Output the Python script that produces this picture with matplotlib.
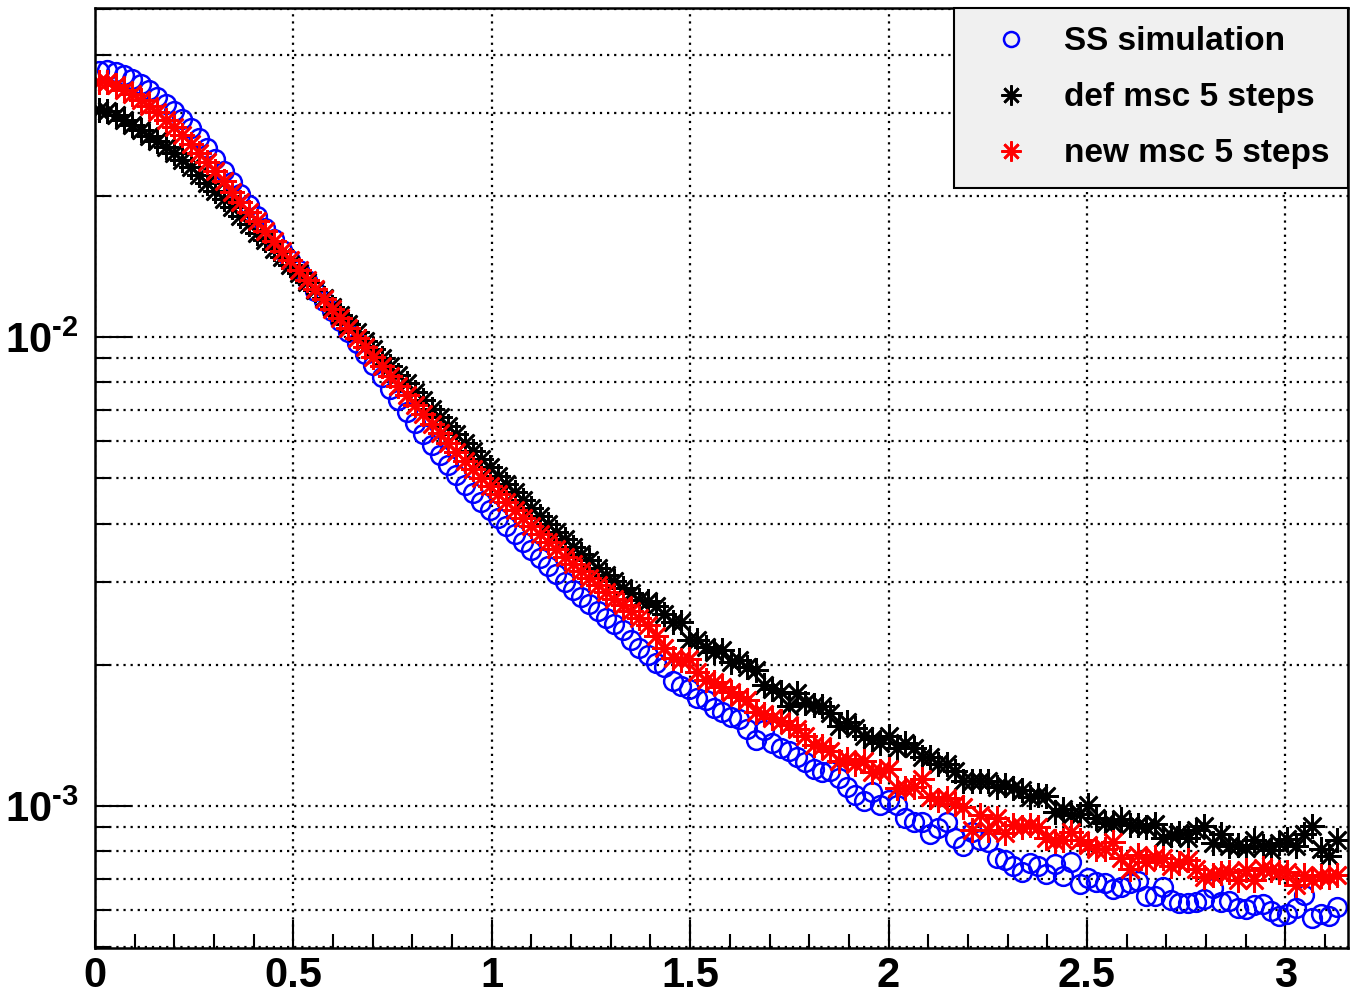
import numpy as np
import matplotlib
matplotlib.use('Agg')
import matplotlib.pyplot as plt
from matplotlib.ticker import FixedLocator, MultipleLocator, NullFormatter, LogLocator, FuncFormatter

plt.rcParams['font.family'] = ['Liberation Sans', 'DejaVu Sans']
plt.rcParams['font.weight'] = 'bold'
plt.rcParams['mathtext.fontset'] = 'custom'
plt.rcParams['mathtext.rm'] = 'Liberation Sans:bold'
plt.rcParams['mathtext.bf'] = 'Liberation Sans:bold'
plt.rcParams['mathtext.default'] = 'rm'

# histogram binning (theta, rad)
n_bins = 150
theta_min, theta_max = 0.0, np.pi

# bin contents, units of 1e-3
ss_sim = [
    36.9, 37.1, 36.7, 36.2, 35.5, 34.6, 33.6, 32.5, 31.4, 30.3,
    29.1, 27.9, 26.6, 25.3, 24.0, 22.6, 21.4, 20.2, 19.1, 18.1,
    17.1, 16.2, 15.33, 14.6, 13.9, 13.23, 12.54, 11.93, 11.36, 10.82,
    10.25, 9.71, 9.20, 8.72, 8.22, 7.75, 7.34, 6.92, 6.56, 6.21,
    5.88, 5.60, 5.33, 5.08, 4.83, 4.65, 4.45, 4.28, 4.11, 3.95,
    3.80, 3.65, 3.51, 3.38, 3.25, 3.13, 3.00, 2.89, 2.79, 2.70,
    2.60, 2.52, 2.44, 2.37, 2.26, 2.17, 2.10, 2.02, 1.98, 1.85,
    1.80, 1.78, 1.70, 1.68, 1.62, 1.59, 1.55, 1.53, 1.46, 1.38,
    1.45, 1.36, 1.33, 1.31, 1.27, 1.24, 1.20, 1.18, 1.19, 1.15,
    1.10, 1.055, 1.025, 1.07, 1.005, 1.03, 1.005, 0.943, 0.925, 0.925,
    0.872, 0.898, 0.925, 0.855, 0.822, 0.881, 0.846, 0.838, 0.774, 0.767,
    0.745, 0.723, 0.756, 0.745, 0.716, 0.752, 0.709, 0.759, 0.681, 0.702,
    0.688, 0.685, 0.665, 0.672, 0.685, 0.692, 0.643, 0.643, 0.672, 0.630,
    0.621, 0.621, 0.624, 0.633, 0.669, 0.624, 0.627, 0.606, 0.603, 0.615,
    0.618, 0.597, 0.583, 0.589, 0.606, 0.646, 0.577, 0.589, 0.583, 0.609,
]

def_msc = [
    30.5, 30.3, 29.7, 29.0, 28.3, 27.6, 26.8, 26.2, 25.4, 24.7,
    23.85, 23.0, 22.15, 21.3, 20.5, 19.7, 18.9, 18.1, 17.4, 16.7,
    16.1, 15.4, 14.8, 14.24, 13.7, 13.1, 12.6, 12.1, 11.59, 11.14,
    10.66, 10.25, 9.80, 9.43, 9.02, 8.68, 8.30, 7.98, 7.63, 7.34,
    7.02, 6.75, 6.46, 6.21, 5.94, 5.71, 5.49, 5.28, 5.06, 4.86,
    4.67, 4.49, 4.32, 4.15, 3.99, 3.84, 3.71, 3.57, 3.45, 3.34,
    3.22, 3.11, 3.02, 2.92, 2.84, 2.75, 2.73, 2.67, 2.57, 2.47,
    2.47, 2.26, 2.26, 2.18, 2.13, 2.15, 2.03, 2.05, 1.98, 1.95,
    1.81, 1.78, 1.75, 1.63, 1.74, 1.66, 1.64, 1.63, 1.58, 1.48,
    1.51, 1.47, 1.41, 1.39, 1.36, 1.41, 1.33, 1.36, 1.33, 1.27,
    1.27, 1.23, 1.23, 1.19, 1.13, 1.13, 1.13, 1.13, 1.10, 1.11,
    1.09, 1.08, 1.045, 1.055, 1.05, 0.971, 0.985, 0.957, 0.962, 1.005,
    0.943, 0.920, 0.916, 0.938, 0.911, 0.911, 0.902, 0.916, 0.855, 0.868,
    0.876, 0.855, 0.889, 0.907, 0.834, 0.872, 0.822, 0.826, 0.814, 0.846,
    0.822, 0.806, 0.834, 0.851, 0.822, 0.872, 0.907, 0.810, 0.782, 0.846,
]

new_msc = [
    34.9, 34.9, 34.4, 33.6, 33.0, 32.0, 31.1, 30.2, 29.0, 28.0,
    26.96, 25.8, 24.7, 23.6, 22.6, 21.5, 20.4, 19.4, 18.5, 17.7,
    16.8, 16.0, 15.25, 14.6, 13.9, 13.23, 12.66, 12.05, 11.48, 10.98,
    10.45, 9.95, 9.52, 9.06, 8.68, 8.26, 7.86, 7.52, 7.16, 6.85,
    6.52, 6.24, 5.94, 5.68, 5.44, 5.23, 5.01, 4.81, 4.62, 4.45,
    4.28, 4.11, 3.95, 3.80, 3.65, 3.53, 3.40, 3.28, 3.17, 3.06,
    2.96, 2.86, 2.76, 2.68, 2.60, 2.52, 2.43, 2.30, 2.17, 2.07,
    2.05, 2.06, 1.93, 1.86, 1.84, 1.79, 1.75, 1.71, 1.68, 1.59,
    1.57, 1.54, 1.52, 1.49, 1.46, 1.41, 1.35, 1.34, 1.31, 1.25,
    1.26, 1.23, 1.25, 1.18, 1.19, 1.20, 1.09, 1.09, 1.10, 1.14,
    1.045, 1.03, 1.04, 1.01, 0.995, 0.889, 0.957, 0.889, 0.943, 0.876,
    0.911, 0.902, 0.911, 0.902, 0.855, 0.842, 0.846, 0.881, 0.846, 0.826,
    0.810, 0.810, 0.838, 0.774, 0.734, 0.786, 0.760, 0.778, 0.774, 0.745,
    0.756, 0.767, 0.734, 0.706, 0.713, 0.720, 0.723, 0.695, 0.730, 0.695,
    0.737, 0.730, 0.723, 0.723, 0.678, 0.713, 0.695, 0.709, 0.706, 0.713,
]

labels = ['SS simulation', 'def msc 5 steps', 'new msc 5 steps']
ytick_vals = [1e-3, 1e-2]
ytick_labels = [r'$10^{\text{-}3}$', r'$10^{\text{-}2}$']

edges = np.linspace(theta_min, theta_max, n_bins + 1)
x = 0.5 * (edges[:-1] + edges[1:])

W, H = 1353, 1005
fig = plt.figure(figsize=(W / 100, H / 100), dpi=100)
ax = fig.add_axes([95 / W, 1 - 948 / H, (1348 - 95) / W, (948 - 8) / H])
ax.set_yscale('log')

star = (8, 2, 0)
ax.plot(x, np.array(ss_sim) * 1e-3, ls='none', marker='o', ms=13.5,
        mfc='none', mec='blue', mew=1.8, label=labels[0])
ax.plot(x, np.array(def_msc) * 1e-3, ls='none', marker=star, ms=18,
        mec='black', mew=1.9, label=labels[1])
ax.plot(x, np.array(new_msc) * 1e-3, ls='none', marker=star, ms=18,
        mec='red', mew=1.9, label=labels[2])

ax.set_xlim(0, 3.158)
ax.set_ylim(4.98e-4, 5.03e-2)

ax.xaxis.set_major_locator(MultipleLocator(0.5))
ax.xaxis.set_minor_locator(MultipleLocator(0.1))
ax.xaxis.set_major_formatter(FuncFormatter(lambda v, p: f'{v:g}'))
ax.yaxis.set_major_locator(FixedLocator(ytick_vals))
ax.yaxis.set_major_formatter(FuncFormatter(
    lambda v, p: ytick_labels[int(round(np.log10(v))) + 3] if round(np.log10(v)) in (-3, -2) else ''))
ax.yaxis.set_minor_locator(LogLocator(base=10, subs=range(2, 10), numticks=20))
ax.yaxis.set_minor_formatter(NullFormatter())

ax.tick_params(which='both', direction='in', top=False, right=False, width=1.5)
ax.tick_params(axis='x', which='major', length=20, labelsize=30, pad=6)
ax.tick_params(axis='x', which='minor', length=10)
ax.tick_params(axis='y', which='major', length=26, labelsize=30, pad=12)
ax.tick_params(axis='y', which='minor', length=11)

grid_kw = dict(color='black', linestyle=(0, (1, 2.2)), linewidth=1.6)
ax.grid(True, axis='x', which='major', **grid_kw)
ax.grid(True, axis='y', which='both', **grid_kw)

for s in ax.spines.values():
    s.set_linewidth(1.8)

leg = ax.legend(loc='upper right', bbox_to_anchor=(1, 1), borderaxespad=0,
                fancybox=False, framealpha=1, facecolor='#f0f0f0',
                edgecolor='black', fontsize=24, handlelength=2.3,
                handletextpad=0.45, borderpad=0.55, labelspacing=0.75,
                markerscale=0.8)
leg.get_frame().set_linewidth(1.5)

fig.savefig('out.png', dpi=100)
